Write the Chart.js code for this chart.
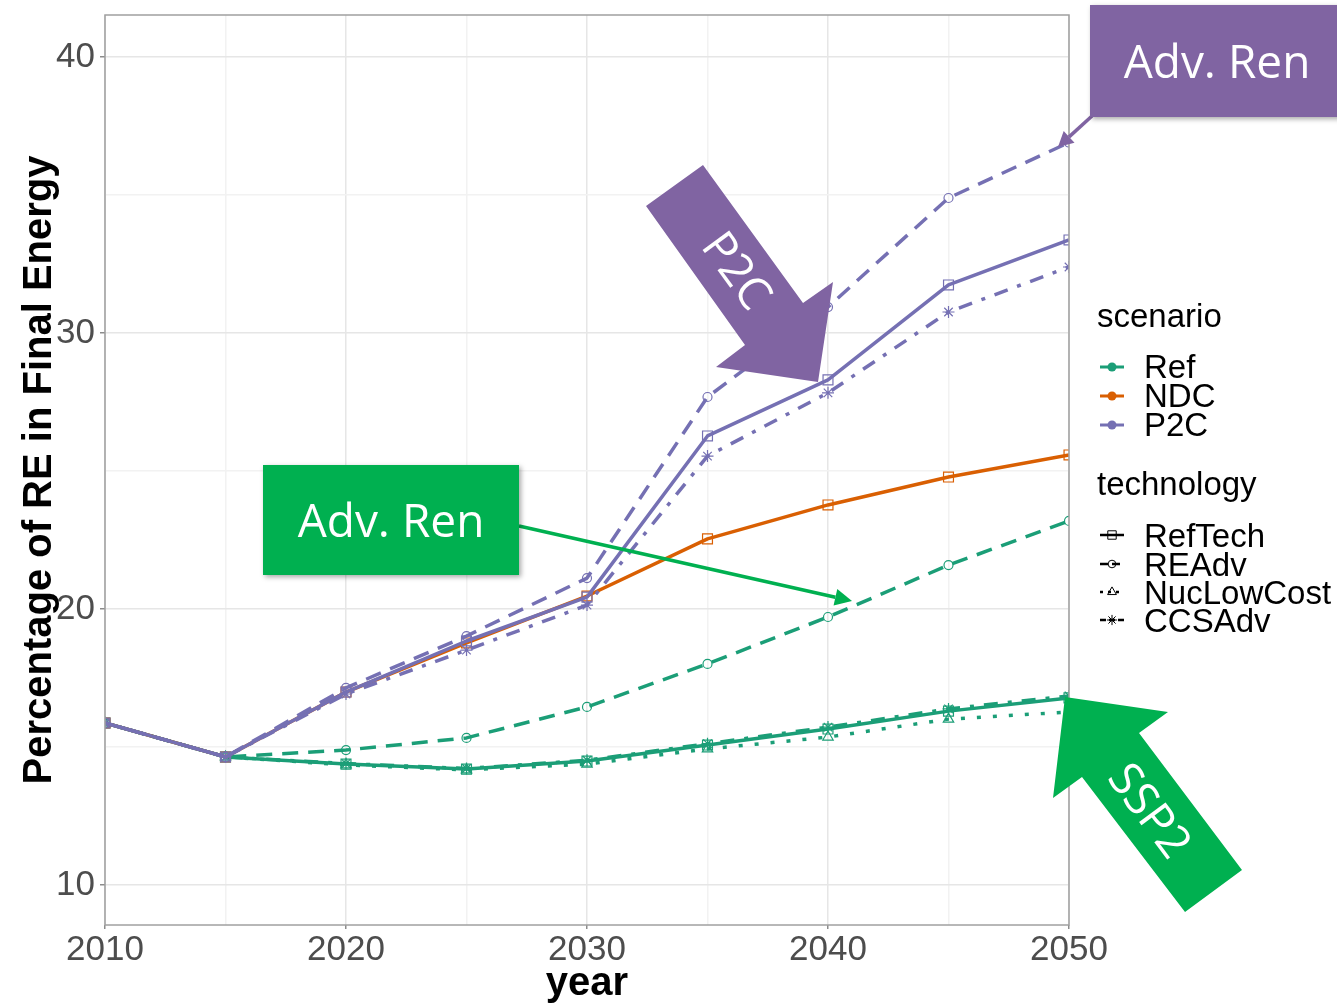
<!DOCTYPE html>
<html>
<head>
<meta charset="utf-8">
<script src="https://cdn.jsdelivr.net/npm/chart.js@4.4.1/dist/chart.umd.min.js"></script>
<style>
  html, body { margin: 0; padding: 0; background: #ffffff; }
  #wrap { width: 1337px; height: 1004px; position: relative; }
</style>
</head>
<body>
<div id="wrap"><canvas id="chart" width="1337" height="1004"></canvas></div>
<script>
// Share of renewables in final energy (%), by scenario and technology assumption
const years = [2010, 2015, 2020, 2025, 2030, 2035, 2040, 2045, 2050];

const refRefTech    = [15.87, 14.64, 14.38, 14.20, 14.49, 15.07, 15.65, 16.30, 16.78];
const refREAdv      = [15.87, 14.64, 14.89, 15.33, 16.45, 18.01, 19.71, 21.59, 23.19];
const refNucLowCost = [15.87, 14.64, 14.35, 14.17, 14.38, 14.93, 15.36, 16.01, 16.27];
const refCCSAdv     = [15.87, 14.64, 14.40, 14.22, 14.52, 15.12, 15.72, 16.38, 16.85];

const ndcRefTech    = [15.87, 14.64, 16.99, 18.77, 20.47, 22.54, 23.77, 24.78, 25.58];

const p2cRefTech    = [15.87, 14.64, 16.99, 18.84, 20.43, 26.27, 28.30, 31.74, 33.37];
const p2cREAdv      = [15.87, 14.64, 17.14, 19.02, 21.12, 27.68, 30.94, 34.89, 36.90];
const p2cCCSAdv     = [15.87, 14.64, 16.92, 18.51, 20.14, 25.54, 27.83, 30.76, 32.39];

const xTickValues = [2010, 2015, 2020, 2025, 2030, 2035, 2040, 2045, 2050];
const yTickValues = [10, 15, 20, 25, 30, 35, 40];
const scenarioNames = ['Ref', 'NDC', 'P2C'];
const techNames = ['RefTech', 'REAdv', 'NucLowCost', 'CCSAdv'];

const scenarioColors = { Ref: '#1B9E77', NDC: '#D95F02', P2C: '#7570B3' };
const techStyles = {
  RefTech:    { dash: [],              keyDash: [],     point: 'rect',     radius: 7 },
  REAdv:      { dash: [16, 10],        keyDash: [8, 4], point: 'circle',   radius: 4.5 },
  NucLowCost: { dash: [4, 12],         keyDash: [3, 5], point: 'triangle', radius: 6 },
  CCSAdv:     { dash: [4, 10, 14, 10], keyDash: [6, 3], point: 'star',     radius: 6 }
};

// first entries are drawn on top
const series = [
  { scenario: 'P2C', tech: 'REAdv',      values: p2cREAdv },
  { scenario: 'P2C', tech: 'RefTech',    values: p2cRefTech },
  { scenario: 'P2C', tech: 'CCSAdv',     values: p2cCCSAdv },
  { scenario: 'NDC', tech: 'RefTech',    values: ndcRefTech },
  { scenario: 'Ref', tech: 'RefTech',    values: refRefTech },
  { scenario: 'Ref', tech: 'CCSAdv',     values: refCCSAdv },
  { scenario: 'Ref', tech: 'NucLowCost', values: refNucLowCost },
  { scenario: 'Ref', tech: 'REAdv',      values: refREAdv }
];

const datasets = series.map(s => {
  const st = techStyles[s.tech];
  const col = scenarioColors[s.scenario];
  return {
    label: s.scenario + ' ' + s.tech,
    data: years.map((yr, i) => ({ x: yr, y: s.values[i] })),
    borderColor: col,
    borderWidth: 3.5,
    borderDash: st.dash,
    borderCapStyle: 'butt',
    borderJoinStyle: 'round',
    pointStyle: st.point,
    pointRadius: st.radius,
    pointBorderWidth: 1.2,
    pointBorderColor: col,
    pointBackgroundColor: 'rgba(0,0,0,0)',
    tension: 0,
    clip: 0
  };
});

const FONT = '"Liberation Sans", Arial, sans-serif';
const CALLOUT_FONT = '"Open Sans", "Noto Sans", sans-serif';
Chart.defaults.font.family = FONT;

function drawPointer(ctx, x1, y1, x2, y2, color, width, headLen, headHalf) {
  const ang = Math.atan2(y2 - y1, x2 - x1);
  const bx = x2 - Math.cos(ang) * headLen;
  const by = y2 - Math.sin(ang) * headLen;
  ctx.save();
  ctx.strokeStyle = color;
  ctx.fillStyle = color;
  ctx.lineWidth = width;
  ctx.beginPath();
  ctx.moveTo(x1, y1);
  ctx.lineTo(bx, by);
  ctx.stroke();
  ctx.beginPath();
  ctx.moveTo(x2, y2);
  ctx.lineTo(bx + Math.sin(ang) * headHalf, by - Math.cos(ang) * headHalf);
  ctx.lineTo(bx - Math.sin(ang) * headHalf, by + Math.cos(ang) * headHalf);
  ctx.closePath();
  ctx.fill();
  ctx.restore();
}

function drawBox(ctx, x, y, w, h, color, text, tx, ty) {
  ctx.save();
  ctx.shadowColor = 'rgba(0,0,0,0.35)';
  ctx.shadowBlur = 5;
  ctx.shadowOffsetX = 2;
  ctx.shadowOffsetY = 2;
  ctx.fillStyle = color;
  ctx.fillRect(x, y, w, h);
  ctx.restore();
  ctx.save();
  ctx.fillStyle = '#ffffff';
  ctx.font = '46px ' + CALLOUT_FONT;
  ctx.textAlign = 'center';
  ctx.textBaseline = 'alphabetic';
  ctx.fillText(text, tx, ty);
  ctx.restore();
}

function drawBlockArrow(ctx, pts, color, text, cx, cy, angle) {
  ctx.save();
  ctx.fillStyle = color;
  ctx.beginPath();
  pts.forEach((p, i) => (i ? ctx.lineTo(p[0], p[1]) : ctx.moveTo(p[0], p[1])));
  ctx.closePath();
  ctx.fill();
  ctx.translate(cx, cy);
  ctx.rotate(angle);
  ctx.fillStyle = '#ffffff';
  ctx.font = '46px ' + CALLOUT_FONT;
  ctx.textAlign = 'center';
  ctx.textBaseline = 'middle';
  ctx.fillText(text, 0, 0);
  ctx.restore();
}

const decorations = {
  id: 'decorations',
  afterDatasetsDraw(chart) {
    const { ctx, chartArea: a } = chart;
    ctx.save();
    ctx.strokeStyle = '#a0a0a0';
    ctx.lineWidth = 1.5;
    ctx.strokeRect(a.left, a.top, a.right - a.left, a.bottom - a.top);
    ctx.restore();
  },
  afterDraw(chart) {
    const ctx = chart.ctx;

    // legend: scenario colours
    ctx.save();
    ctx.fillStyle = '#000000';
    ctx.font = '33px ' + FONT;
    ctx.textBaseline = 'alphabetic';
    ctx.textAlign = 'left';
    ctx.fillText('scenario', 1097, 327);
    const scenKeyY = [367, 396, 425];
    scenarioNames.forEach((name, i) => {
      const y = scenKeyY[i];
      ctx.strokeStyle = scenarioColors[name];
      ctx.fillStyle = scenarioColors[name];
      ctx.lineWidth = 3;
      ctx.setLineDash([]);
      ctx.beginPath();
      ctx.moveTo(1100, y);
      ctx.lineTo(1124, y);
      ctx.stroke();
      ctx.beginPath();
      ctx.arc(1112, y, 4.5, 0, Math.PI * 2);
      ctx.fill();
      ctx.fillStyle = '#000000';
      ctx.fillText(name, 1144, y + 11);
    });

    // legend: technology line types and shapes
    ctx.fillText('technology', 1097, 495);
    const techKeyY = [535, 564, 592, 620];
    techNames.forEach((name, i) => {
      const y = techKeyY[i];
      const st = techStyles[name];
      ctx.save();
      ctx.strokeStyle = '#000000';
      ctx.lineWidth = 2.5;
      ctx.setLineDash(st.keyDash);
      ctx.beginPath();
      ctx.moveTo(1100, y);
      ctx.lineTo(1124, y);
      ctx.stroke();
      ctx.setLineDash([]);
      ctx.fillStyle = 'rgba(0,0,0,0)';
      ctx.lineWidth = 1;
      Chart.helpers.drawPoint(ctx, {
        pointStyle: st.point, radius: st.radius * 0.85, rotation: 0, borderWidth: 1
      }, 1112, y);
      ctx.restore();
      ctx.fillStyle = '#000000';
      ctx.fillText(name, 1144, y + 12);
    });
    ctx.restore();

    // call-outs
    drawBlockArrow(ctx,
      [[646, 206], [703, 165], [803, 303], [833, 282], [818, 382], [716, 367], [745, 345]],
      '#8064A2', 'P2C', 735, 272, 0.94);
    drawBlockArrow(ctx,
      [[1065, 697], [1168, 712], [1139, 733], [1242, 870], [1185, 912], [1082, 777], [1053, 798]],
      '#00B050', 'SSP2', 1148, 812, 0.93);

    drawPointer(ctx, 1092, 116, 1058, 147, '#8064A2', 3.5, 15, 8);
    drawBox(ctx, 1090, 5, 260, 112, '#8064A2', 'Adv. Ren', 1217, 78);

    drawPointer(ctx, 519, 526, 852, 601, '#00B050', 3.5, 17, 8.5);
    drawBox(ctx, 263, 465, 256, 110, '#00B050', 'Adv. Ren', 391, 537);
  }
};

const majorGrid = '#e6e6e6';
const minorGrid = '#f2f2f2';

function noEdgePadding(axis) {
  axis.paddingTop = 0;
  axis.paddingBottom = 0;
  axis.paddingLeft = 0;
  axis.paddingRight = 0;
}

new Chart(document.getElementById('chart'), {
  type: 'line',
  data: { datasets },
  options: {
    responsive: false,
    devicePixelRatio: 1,
    animation: false,
    layout: { padding: { left: 0, top: 15, right: 268, bottom: 0 } },
    plugins: { legend: { display: false }, tooltip: { enabled: false } },
    scales: {
      x: {
        type: 'linear',
        min: 2010,
        max: 2050,
        afterBuildTicks: axis => { axis.ticks = xTickValues.map(v => ({ value: v })); },
        afterFit: axis => { axis.height = 79; noEdgePadding(axis); },
        border: { display: false },
        grid: {
          color: c => (c.tick && c.tick.value % 10 === 0 ? majorGrid : minorGrid),
          lineWidth: 1.5,
          drawTicks: true,
          tickLength: 4,
          tickColor: c => (c.tick && c.tick.value % 10 === 0 ? '#8c8c8c' : 'rgba(0,0,0,0)')
        },
        ticks: {
          autoSkip: false,
          maxRotation: 0,
          padding: 0,
          color: '#4D4D4D',
          font: { size: 35 },
          callback: v => (v % 10 === 0 ? String(v) : '')
        },
        title: {
          display: true,
          text: 'year',
          color: '#000000',
          font: { size: 40, weight: 'bold', lineHeight: 1 },
          padding: { top: 0, bottom: 0 }
        }
      },
      y: {
        type: 'linear',
        min: 8.551,
        max: 41.52,
        afterBuildTicks: axis => { axis.ticks = yTickValues.map(v => ({ value: v })); },
        afterFit: axis => { axis.width = 105; noEdgePadding(axis); },
        border: { display: false },
        grid: {
          color: c => (c.tick && c.tick.value % 10 === 0 ? majorGrid : minorGrid),
          lineWidth: 1.5,
          drawTicks: true,
          tickLength: 5,
          tickColor: c => (c.tick && c.tick.value % 10 === 0 ? '#8c8c8c' : 'rgba(0,0,0,0)')
        },
        ticks: {
          padding: 5,
          color: '#4D4D4D',
          font: { size: 35, lineHeight: 0.8 },
          callback: v => (v % 10 === 0 ? String(v) : '')
        },
        title: {
          display: true,
          text: 'Percentage of RE in Final Energy',
          color: '#000000',
          font: { size: 40, weight: 'bold', lineHeight: 1 },
          padding: { top: 20, bottom: 0 }
        }
      }
    }
  },
  plugins: [decorations]
});
</script>
</body>
</html>
